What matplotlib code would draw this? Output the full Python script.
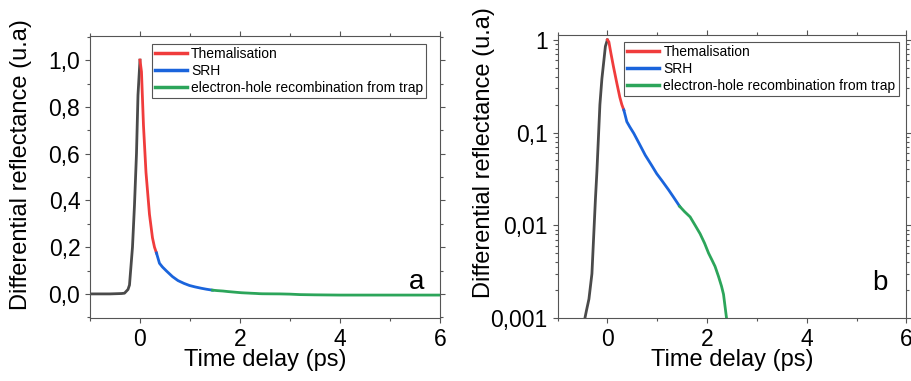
import math
import matplotlib
matplotlib.use("Agg")
import matplotlib.pyplot as plt
from matplotlib.ticker import MultipleLocator, FixedLocator, FuncFormatter, LogLocator, NullFormatter

plt.rcParams['font.family'] = ['Liberation Sans', 'DejaVu Sans']

# rise (before pump maximum)
t_rise = [-1.0, -0.6, -0.45, -0.42, -0.37, -0.31, -0.24, -0.21, -0.15, -0.11, -0.07, -0.04, 0.0]
y_rise = [0.0, 0.0, 0.001, 0.0012, 0.0016, 0.003, 0.019, 0.038, 0.2, 0.38, 0.6, 0.85, 1.0]

# thermalisation
t_therm = [0.0, 0.03, 0.07, 0.12, 0.19, 0.25, 0.29, 0.33]
y_therm = [1.0, 0.95, 0.72, 0.52, 0.34, 0.24, 0.20, 0.175]

# SRH
t_srh = [0.33, 0.39, 0.45, 0.53, 0.65, 0.76, 0.88, 0.99, 1.1, 1.23, 1.33, 1.45]
y_srh = [0.175, 0.131, 0.115, 0.098, 0.074, 0.057, 0.045, 0.036, 0.030, 0.024, 0.020, 0.016]

# electron-hole recombination from trap
t_trap = [1.45, 1.55, 1.66, 1.76, 1.86, 1.95, 2.03, 2.10, 2.16, 2.23, 2.29, 2.33, 2.39,
          2.45, 2.6, 2.8, 3.0, 3.2, 3.5, 4.0, 4.5, 5.0, 5.5, 6.0]
y_trap = [0.016, 0.014, 0.0123, 0.010, 0.0081, 0.0064, 0.0050, 0.0042, 0.0036, 0.0028, 0.0022, 0.0018, 0.001,
          0.0006, 0.0003, 0.0, -0.001, -0.003, -0.004, -0.005, -0.005, -0.005, -0.005, -0.005]

labels = ["Themalisation", "SRH", "electron-hole recombination from trap"]
c_rise = "#4a4a4a"
c_therm = "#f03c3c"
c_srh = "#1a64dc"
c_trap = "#2ca55a"

fig = plt.figure(figsize=(9.11, 3.81), dpi=100)
ax1 = fig.add_axes([0.0988, 0.1654, 0.384, 0.740])
ax2 = fig.add_axes([0.612, 0.1654, 0.383, 0.743])


def comma(v, pos=None):
    return "{:.1f}".format(v).replace(".", ",")


def log_lab(v, pos=None):
    if v >= 1:
        return "1"
    nd = int(round(-math.log10(v)))
    return ("{:.%df}" % nd).format(v).replace(".", ",")


for ax in (ax1, ax2):
    ax.plot(t_rise, y_rise, color=c_rise, lw=2)
    ax.plot(t_therm, y_therm, color=c_therm, lw=2, label=labels[0])
    ax.plot(t_srh, y_srh, color=c_srh, lw=2, label=labels[1])
    ax.plot(t_trap, y_trap, color=c_trap, lw=2, label=labels[2])
    ax.set_xlim(-1, 6)
    ax.xaxis.set_major_locator(MultipleLocator(2))
    ax.xaxis.set_minor_locator(MultipleLocator(1))
    ax.xaxis.set_major_formatter(FuncFormatter(lambda v, p: "%d" % v))
    ax.tick_params(which="both", direction="out", top=True, right=True,
                   colors="#555555", labelcolor="black", labelsize=16.5)
    ax.tick_params(which="major", length=3.5, width=0.8)
    ax.tick_params(which="minor", length=2.2, width=0.8)
    for s in ax.spines.values():
        s.set_color("#555555")
        s.set_linewidth(0.8)
    ax.set_xlabel("Time delay (ps)", fontsize=17, labelpad=-1)
    ax.set_ylabel("Differential reflectance (u.a)", fontsize=17)

ax1.yaxis.set_label_coords(-0.166, 0.543)
ax2.yaxis.set_label_coords(-0.180, 0.583)

ax1.set_ylim(-0.103, 1.103)
ax1.yaxis.set_major_locator(MultipleLocator(0.2))
ax1.yaxis.set_minor_locator(MultipleLocator(0.1))
ax1.yaxis.set_major_formatter(FuncFormatter(comma))

ax2.set_yscale("log", nonpositive="mask")
ax2.set_ylim(0.001, 1.13)
ax2.yaxis.set_major_locator(FixedLocator([0.001, 0.01, 0.1, 1]))
ax2.yaxis.set_major_formatter(FuncFormatter(log_lab))
ax2.yaxis.set_minor_locator(LogLocator(base=10, subs=range(2, 10), numticks=20))
ax2.yaxis.set_minor_formatter(NullFormatter())

leg_kw = dict(loc="upper left", fontsize=10, frameon=True, fancybox=False,
              edgecolor="#555555", framealpha=1, borderaxespad=0,
              handlelength=2.3, handletextpad=0.3, labelspacing=0.22, borderpad=0.22)
l1 = ax1.legend(bbox_to_anchor=(0.177, 0.972), **leg_kw)
l2 = ax2.legend(bbox_to_anchor=(0.191, 0.976), **leg_kw)
for lg in (l1, l2):
    lg.get_frame().set_linewidth(0.8)
    for h in lg.get_lines():
        h.set_linewidth(2.5)

ax1.text(0.934, 0.103, "a", transform=ax1.transAxes, fontsize=20, ha="center", va="baseline")
ax2.text(0.923, 0.099, "b", transform=ax2.transAxes, fontsize=20, ha="center", va="baseline")

fig.savefig("out.png", dpi=100)
